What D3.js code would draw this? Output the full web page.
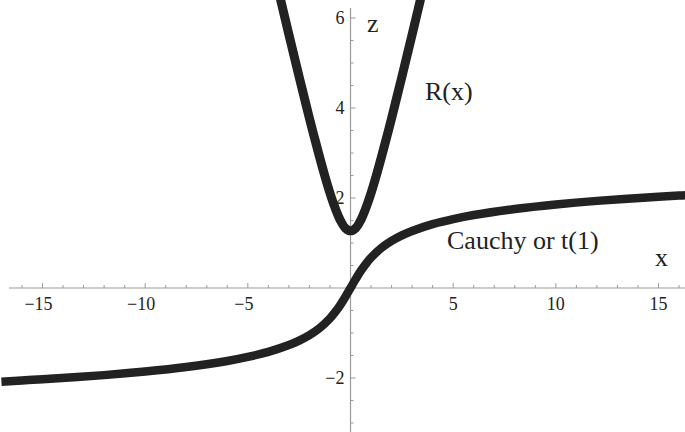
<!DOCTYPE html>
<html>
<head>
<meta charset="utf-8">
<script src="https://cdn.jsdelivr.net/npm/d3@7"></script>
<style>
  html, body { margin: 0; padding: 0; background: #fff; }
  svg { display: block; }
</style>
</head>
<body>
<svg id="chart" width="685" height="432"></svg>
<script>
// Normal-score transform of the Cauchy / t(1) variable
const cauchyX = [-17, -16, -15, -12, -10, -8, -6, -5, -4, -3, -2.5, -2, -1.5, -1, -0.75, -0.5, -0.25, 0,
                 0.25, 0.5, 0.75, 1, 1.5, 2, 2.5, 3, 4, 5, 6, 8, 10, 12, 15, 16, 16.5];
const cauchyZ = [-2.081, -2.054, -2.028, -1.936, -1.856, -1.755, -1.621, -1.531, -1.419, -1.268, -1.169, -1.047, -0.888, -0.674, -0.538, -0.379, -0.196, 0,
                 0.196, 0.379, 0.538, 0.674, 0.888, 1.047, 1.169, 1.268, 1.419, 1.531, 1.621, 1.755, 1.856, 1.936, 2.028, 2.054, 2.066];

// R(x) curve
const rX = [-3.5, -3, -2.5, -2, -1.75, -1.5, -1.25, -1, -0.75, -0.5, -0.25, 0,
            0.25, 0.5, 0.75, 1, 1.25, 1.5, 1.75, 2, 2.5, 3, 3.5];
const rZ = [6.59, 5.63, 4.69, 3.77, 3.33, 2.9, 2.49, 2.11, 1.78, 1.51, 1.33, 1.27,
            1.33, 1.51, 1.78, 2.11, 2.49, 2.9, 3.33, 3.77, 4.69, 5.63, 6.59];

// Axis ticks
const xMajor = [-15, -10, -5, 5, 10, 15];
const yMajor = [-2, 2, 4, 6];
const xMinor = d3.range(-16, 17, 1).filter(v => v !== 0 && v % 5 !== 0);
const yMinor = d3.range(-3, 6.01, 0.5).filter(v => v !== 0 && v % 2 !== 0);

const W = 685, H = 432;
const FONT = "'Liberation Serif', 'Times New Roman', 'DejaVu Serif', serif";
const svg = d3.select("#chart");

const x = d3.scaleLinear().domain([-17.07, 16.29]).range([0, W]);
const y = d3.scaleLinear().domain([6.4, -3.2]).range([0, H]);

const axisColor = "#9a9a9a";
const x0 = x(0), y0 = y(0);

// axis lines
svg.append("line")
  .attr("x1", x(-16.63)).attr("x2", W)
  .attr("y1", y0).attr("y2", y0)
  .attr("stroke", axisColor).attr("stroke-width", 1.2);
svg.append("line")
  .attr("x1", x0).attr("x2", x0)
  .attr("y1", y(6.22)).attr("y2", H)
  .attr("stroke", axisColor).attr("stroke-width", 1.2);

// x ticks (drawn above the axis)
svg.selectAll(".xmaj").data(xMajor).join("line")
  .attr("x1", d => x(d)).attr("x2", d => x(d))
  .attr("y1", y0).attr("y2", y0 - 5)
  .attr("stroke", axisColor);
svg.selectAll(".xmin").data(xMinor).join("line")
  .attr("x1", d => x(d)).attr("x2", d => x(d))
  .attr("y1", y0).attr("y2", y0 - 3)
  .attr("stroke", axisColor);
svg.selectAll(".xlab").data(xMajor).join("text")
  .attr("x", d => x(d) + (d < 0 ? -4 : 0))
  .attr("y", y0 + 22)
  .attr("text-anchor", "middle")
  .attr("font-family", FONT)
  .attr("font-size", 18)
  .attr("fill", "#222")
  .text(d => d < 0 ? "\u2212" + Math.abs(d) : d);

// y ticks (drawn right of the axis)
svg.selectAll(".ymaj").data(yMajor).join("line")
  .attr("x1", x0).attr("x2", x0 + 5)
  .attr("y1", d => y(d)).attr("y2", d => y(d))
  .attr("stroke", axisColor);
svg.selectAll(".ymin").data(yMinor).join("line")
  .attr("x1", x0).attr("x2", x0 + 3)
  .attr("y1", d => y(d)).attr("y2", d => y(d))
  .attr("stroke", axisColor);
svg.selectAll(".ylab").data(yMajor).join("text")
  .attr("x", x0 - 6)
  .attr("y", d => y(d) + 6)
  .attr("text-anchor", "end")
  .attr("font-family", FONT)
  .attr("font-size", 18)
  .attr("fill", "#222")
  .text(d => d < 0 ? "\u2212" + Math.abs(d) : d);

// curves, clipped to the frame
svg.append("clipPath").attr("id", "frame")
  .append("rect").attr("x", 0).attr("y", 0).attr("width", W).attr("height", H);

const line = d3.line()
  .x(d => x(d[0]))
  .y(d => y(d[1]))
  .curve(d3.curveCatmullRom);

const g = svg.append("g").attr("clip-path", "url(#frame)");
g.append("path")
  .datum(cauchyX.map((v, i) => [v, cauchyZ[i]]))
  .attr("d", line)
  .attr("fill", "none").attr("stroke", "#222").attr("stroke-width", 8.5);
g.append("path")
  .datum(rX.map((v, i) => [v, rZ[i]]))
  .attr("d", line)
  .attr("fill", "none").attr("stroke", "#222").attr("stroke-width", 9);

// labels
const label = (px, py, s) => svg.append("text")
  .attr("x", px).attr("y", py)
  .attr("font-family", FONT).attr("font-size", 26).attr("fill", "#222")
  .text(s);
label(367, 32, "z");
label(655, 266, "x");
label(425, 100, "R(x)");
label(447, 249, "Cauchy or t(1)");
</script>
</body>
</html>
